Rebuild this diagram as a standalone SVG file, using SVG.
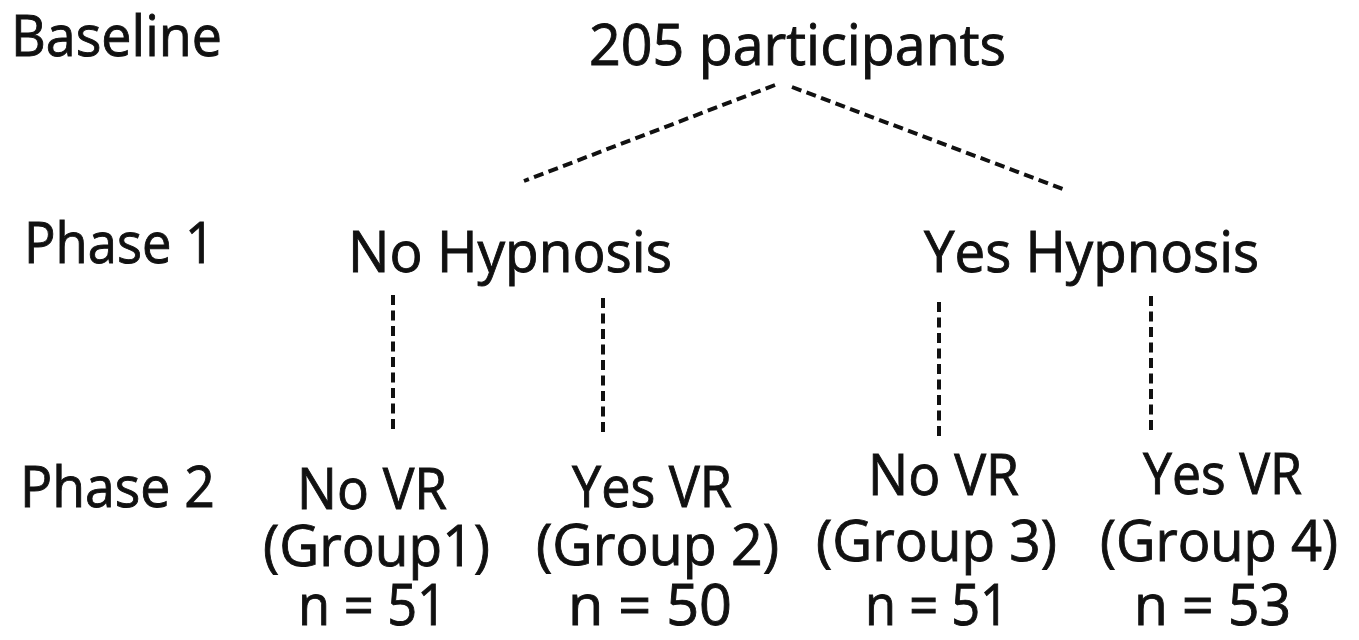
<svg xmlns="http://www.w3.org/2000/svg" width="1359" height="640" viewBox="0 0 1359 640">
<style>
text{font-family:"Open Sans","Noto Sans","Liberation Sans",sans-serif;font-size:56px;fill:#111;stroke:#111;stroke-width:0.9;}
.c{fill:none;stroke:#111;stroke-width:4;stroke-dasharray:10 5.5;}
</style>
<rect width="1359" height="640" fill="#fff"/>
<g id="labels">
<text x="11" y="56" textLength="211" lengthAdjust="spacingAndGlyphs">Baseline</text>
<text x="24" y="263" textLength="191" lengthAdjust="spacingAndGlyphs">Phase 1</text>
<text x="20" y="507" textLength="195" lengthAdjust="spacingAndGlyphs">Phase 2</text>
</g>
<g id="root"><text x="589" y="65" textLength="417" lengthAdjust="spacingAndGlyphs">205 participants</text></g>
<g id="no-hypnosis"><text x="348" y="272" textLength="324" lengthAdjust="spacingAndGlyphs">No Hypnosis</text></g>
<g id="yes-hypnosis"><text x="924" y="272" textLength="335" lengthAdjust="spacingAndGlyphs">Yes Hypnosis</text></g>
<g id="group1">
<text x="297" y="509" textLength="150" lengthAdjust="spacingAndGlyphs">No VR</text>
<text x="263" y="566" textLength="227" lengthAdjust="spacingAndGlyphs">(Group1)</text>
<text x="298" y="625" textLength="149" lengthAdjust="spacingAndGlyphs">n = 51</text>
</g>
<g id="group2">
<text x="572" y="507" textLength="160" lengthAdjust="spacingAndGlyphs">Yes VR</text>
<text x="536" y="565" textLength="243" lengthAdjust="spacingAndGlyphs">(Group 2)</text>
<text x="568" y="625" textLength="164" lengthAdjust="spacingAndGlyphs">n = 50</text>
</g>
<g id="group3">
<text x="868" y="495" textLength="151" lengthAdjust="spacingAndGlyphs">No VR</text>
<text x="816" y="561" textLength="241" lengthAdjust="spacingAndGlyphs">(Group 3)</text>
<text x="865" y="625" textLength="144" lengthAdjust="spacingAndGlyphs">n = 51</text>
</g>
<g id="group4">
<text x="1143" y="494" textLength="159" lengthAdjust="spacingAndGlyphs">Yes VR</text>
<text x="1100" y="561" textLength="238" lengthAdjust="spacingAndGlyphs">(Group 4)</text>
<text x="1134" y="625" textLength="157" lengthAdjust="spacingAndGlyphs">n = 53</text>
</g>
<g id="connectors">
<line class="c" x1="775" y1="85" x2="524" y2="181"/>
<line class="c" x1="792" y1="87" x2="1063" y2="189"/>
<line class="c" x1="393" y1="295" x2="393" y2="430"/>
<line class="c" x1="603" y1="298" x2="603" y2="432"/>
<line class="c" x1="939" y1="302" x2="939" y2="437"/>
<line class="c" x1="1151" y1="296" x2="1151" y2="430"/>
</g>
</svg>
